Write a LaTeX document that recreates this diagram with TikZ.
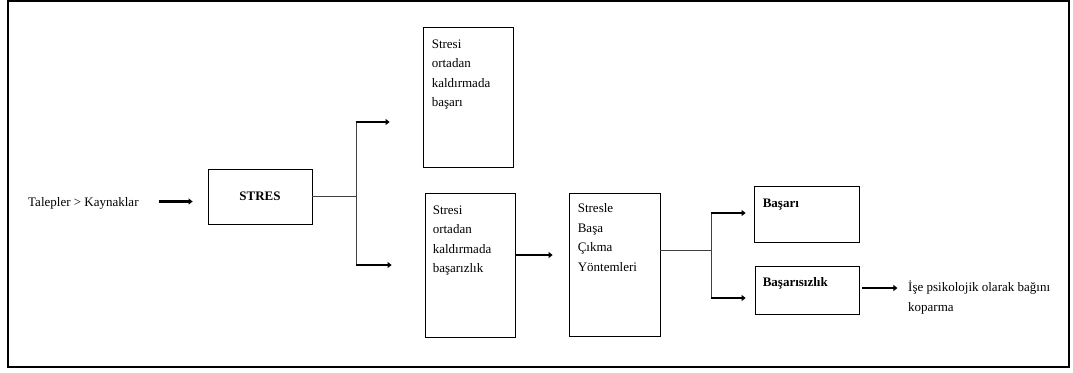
\documentclass[tikz,border=0pt]{standalone}
\usepackage{fontspec}
\setmainfont{Liberation Serif}
\usetikzlibrary{positioning, arrows.meta, calc}

\begin{document}
\begin{tikzpicture}[
    x=1pt, y=-1pt,
    font=\fontsize{13}{19.5}\selectfont,
    box/.style = {draw, line width=0.8pt, inner sep=0pt},
    txt/.style = {inner sep=0pt, align=left, anchor=north west},
    arr/.style = {-{Triangle[length=4pt, width=6pt]}, line width=2.8pt},
    line/.style = {draw=black!75, line width=0.8pt}
]
\useasboundingbox (0,0) rectangle (1073,372);
\draw[line width=2.5pt] (8,1) rectangle (1069,367);

% Left part
\node[txt, anchor=west] (talep) at (28,203) {Talepler > Kaynaklar};
\node[box, minimum width=104pt, minimum height=55pt, font=\fontsize{13}{19.5}\selectfont\bfseries] (stres) at (260,196.5) {STRES};

% Middle boxes
\node[box, minimum width=90pt, minimum height=140pt] (basari1) at (468,97) {};
\node[txt] (basari1txt) at ([shift={(9pt,-13pt)}]basari1.north west) {Stresi\\ortadan\\kaldırmada\\başarı};

\node[box, minimum width=90pt, minimum height=144pt] (basarisiz1) at (470,265) {};
\node[txt] (basarisiz1txt) at ([shift={(8pt,-13pt)}]basarisiz1.north west) {Stresi\\ortadan\\kaldırmada\\başarızlık};

\node[box, minimum width=91pt, minimum height=143pt] (yontem) at (614.5,264.5) {};
\node[txt] (yontemtxt) at ([shift={(9pt,-11pt)}]yontem.north west) {Stresle\\Başa\\Çıkma\\Yöntemleri};

% Right boxes
\node[box, minimum width=105pt, minimum height=56pt] (basari2) at (806.5,214) {};
\node[txt, font=\fontsize{13}{19.5}\selectfont\bfseries] (basari2txt) at ([shift={(9pt,-13pt)}]basari2.north west) {Başarı};

\node[box, minimum width=104pt, minimum height=48pt] (basarisiz2) at (807,290) {};
\node[txt, font=\fontsize{13}{19.5}\selectfont\bfseries] (basarisiz2txt) at ([shift={(8pt,-12pt)}]basarisiz2.north west) {Başarısızlık};

\node[txt] (kopar) at (908,281) {İşe psikolojik olarak bağını\\koparma};

% Connectors
\coordinate (fork1) at (356,196.5);
\coordinate (up1) at (356,122);
\coordinate (down1) at (356,265);
\draw[line] (stres.east) -- (fork1);
\draw[line] (up1) -- (down1);
\draw[arr] (up1) -- ($(basari1.west |- up1)+(-33pt,0)$);
\draw[arr] (down1) -- ($(basarisiz1.west |- down1)+(-33pt,0)$);

\coordinate (fork2) at (711,250);
\coordinate (up2) at (711,213);
\coordinate (down2) at (711,298);
\draw[line] (yontem.east |- fork2) -- (fork2);
\draw[line] (up2) -- (down2);
\draw[arr] (up2) -- ($(basari2.west |- up2)+(-8pt,0)$);
\draw[arr] (down2) -- ($(basarisiz2.west |- down2)+(-9pt,0)$);

\draw[arr] ($(stres.west)+(-49pt,-5pt)$) -- ($(stres.west)+(-15pt,-5pt)$);
\draw[arr] ($(basarisiz1.east)+(0,10pt)$) -- ($(yontem.west)+(-16pt,9.5pt)$);
\draw[arr] ($(basarisiz2.east)+(3pt,2pt)$) -- ++(35pt,0);

\end{tikzpicture}
\end{document}
